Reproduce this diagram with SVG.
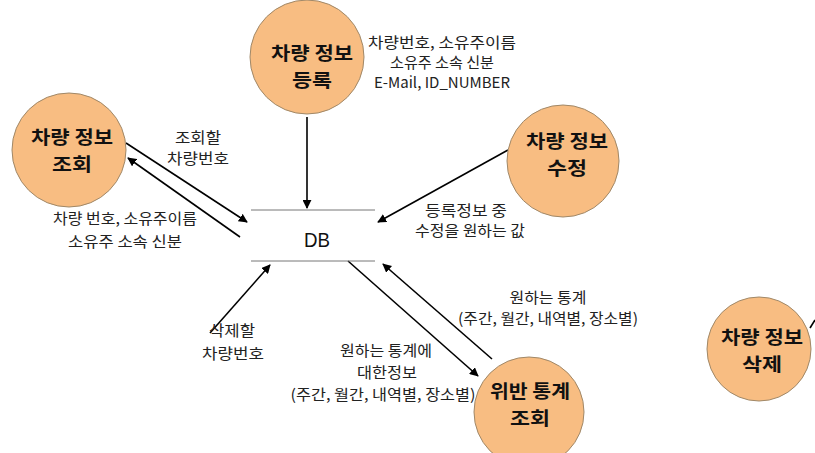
<svg xmlns="http://www.w3.org/2000/svg" width="815" height="453" viewBox="0 0 815 453">
<defs>
<marker id="ah" viewBox="0 0 10 10" refX="9" refY="5" markerWidth="9" markerHeight="9" markerUnits="userSpaceOnUse" orient="auto">
<path d="M0,0 L10,5 L0,10 z" fill="#000"/>
</marker>
<style>
.node{fill:#F8BD82;stroke:#A08868;stroke-width:1}
.nt{font-family:"Noto Sans CJK KR","Noto Sans",sans-serif;font-weight:bold;font-size:18.5px;fill:#111;text-anchor:middle}
.lb{font-family:"Noto Sans CJK KR","Noto Sans",sans-serif;font-size:15px;fill:#222;text-anchor:middle}
.ln{stroke:#000;stroke-width:1.6;fill:none}
.db{stroke:#777;stroke-width:1}
</style>
</defs>
<rect width="815" height="453" fill="#fff"/>
<g id="connectors">
<line class="ln" x1="307" y1="117" x2="307" y2="208" marker-end="url(#ah)"/>
<line class="ln" x1="126" y1="143" x2="247" y2="222" marker-end="url(#ah)"/>
<line class="ln" x1="240" y1="237" x2="128" y2="158" marker-end="url(#ah)"/>
<line class="ln" x1="508" y1="150" x2="378" y2="222" marker-end="url(#ah)"/>
<line class="ln" x1="210" y1="333" x2="270" y2="265" marker-end="url(#ah)"/>
<line class="ln" x1="348" y1="261" x2="478" y2="376" marker-end="url(#ah)"/>
<line class="ln" x1="492" y1="359" x2="383" y2="264" marker-end="url(#ah)"/>
<line class="ln" x1="810" y1="328" x2="815" y2="320"/>
</g>
<g id="db">
<line class="db" x1="251" y1="210" x2="375" y2="210"/>
<line class="db" x1="251" y1="261" x2="375" y2="261"/>
<text x="317" y="247" font-family="Liberation Sans, Arial, sans-serif" font-size="21" text-anchor="middle" textLength="26" lengthAdjust="spacingAndGlyphs" fill="#111">DB</text>
</g>
<g id="n-register">
<circle class="node" cx="307" cy="57" r="57"/>
<text class="nt" x="312" y="60" textLength="82" lengthAdjust="spacingAndGlyphs">차량 정보</text>
<text class="nt" x="312" y="87" textLength="40" lengthAdjust="spacingAndGlyphs">등록</text>
</g>
<g id="n-query">
<circle class="node" cx="69" cy="150" r="57"/>
<text class="nt" x="72" y="144" textLength="82" lengthAdjust="spacingAndGlyphs">차량 정보</text>
<text class="nt" x="72" y="171" textLength="40" lengthAdjust="spacingAndGlyphs">조회</text>
</g>
<g id="n-modify">
<circle class="node" cx="563" cy="161" r="56"/>
<text class="nt" x="567" y="148" textLength="82" lengthAdjust="spacingAndGlyphs">차량 정보</text>
<text class="nt" x="567" y="175" textLength="40" lengthAdjust="spacingAndGlyphs">수정</text>
</g>
<g id="n-stats">
<circle class="node" cx="529" cy="412" r="55"/>
<text class="nt" x="530" y="398" textLength="80" lengthAdjust="spacingAndGlyphs">위반 통계</text>
<text class="nt" x="530" y="425" textLength="40" lengthAdjust="spacingAndGlyphs">조회</text>
</g>
<g id="n-delete">
<circle class="node" cx="759" cy="349" r="52"/>
<text class="nt" x="762" y="344" textLength="82" lengthAdjust="spacingAndGlyphs">차량 정보</text>
<text class="nt" x="762" y="371" textLength="40" lengthAdjust="spacingAndGlyphs">삭제</text>
</g>
<g id="labels">
<text class="lb" x="442" y="48" textLength="148" lengthAdjust="spacingAndGlyphs">차량번호, 소유주이름</text>
<text class="lb" x="442" y="68" textLength="104" lengthAdjust="spacingAndGlyphs">소유주 소속 신분</text>
<text class="lb" x="442" y="88" textLength="136" lengthAdjust="spacingAndGlyphs">E-Mail, ID_NUMBER</text>
<text class="lb" x="198" y="143" textLength="46" lengthAdjust="spacingAndGlyphs">조회할</text>
<text class="lb" x="198" y="164" textLength="62" lengthAdjust="spacingAndGlyphs">차량번호</text>
<text class="lb" x="125" y="224" textLength="144" lengthAdjust="spacingAndGlyphs">차량 번호, 소유주이름</text>
<text class="lb" x="125" y="247" textLength="114" lengthAdjust="spacingAndGlyphs">소유주 소속 신분</text>
<text class="lb" x="466" y="216" textLength="82" lengthAdjust="spacingAndGlyphs">등록정보 중</text>
<text class="lb" x="470" y="236" textLength="110" lengthAdjust="spacingAndGlyphs">수정을 원하는 값</text>
<text class="lb" x="548" y="303" textLength="77" lengthAdjust="spacingAndGlyphs">원하는 통계</text>
<text class="lb" x="548" y="324" textLength="180" lengthAdjust="spacingAndGlyphs">(주간, 월간, 내역별, 장소별)</text>
<text class="lb" x="386" y="356" textLength="92" lengthAdjust="spacingAndGlyphs">원하는 통계에</text>
<text class="lb" x="387" y="378" textLength="60" lengthAdjust="spacingAndGlyphs">대한정보</text>
<text class="lb" x="383" y="400" textLength="185" lengthAdjust="spacingAndGlyphs">(주간, 월간, 내역별, 장소별)</text>
<text class="lb" x="232" y="336" textLength="46" lengthAdjust="spacingAndGlyphs">삭제할</text>
<text class="lb" x="233" y="359" textLength="62" lengthAdjust="spacingAndGlyphs">차량번호</text>
</g>
</svg>
